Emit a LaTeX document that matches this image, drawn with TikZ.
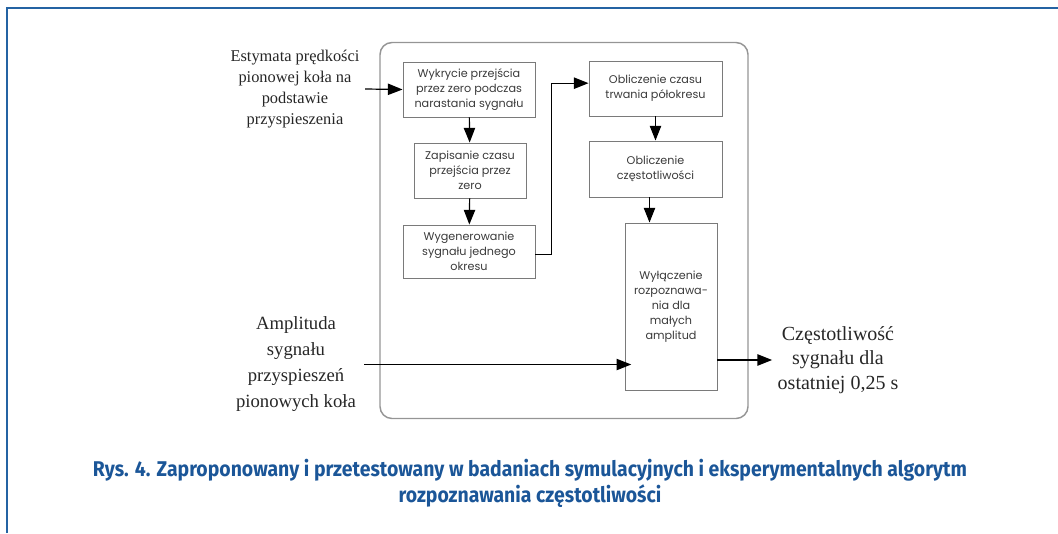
\documentclass[tikz,border=0pt]{standalone}
\usepackage{fontspec}
\setmainfont{Liberation Serif}
\newfontfamily\blokfont{Poppins}
\newfontfamily\capfont[FakeStretch=0.91]{Fira Sans}
\usetikzlibrary{arrows.meta, positioning, calc}
\definecolor{rysBlue}{HTML}{1B5698}
\definecolor{ramkaBlue}{HTML}{2463A3}
\definecolor{blokGray}{HTML}{7A7A7A}
\definecolor{tekstGray}{HTML}{3A3A3A}

\begin{document}
\begin{tikzpicture}[x=0.75pt, y=-0.75pt,
    blok/.style={draw=blokGray, line width=0.7pt, align=center,
                 inner sep=2pt, font=\blokfont\fontsize{8.4}{11.3}\selectfont,
                 text=tekstGray},
    opis/.style={align=center, inner sep=1pt, text=black!85},
    fl/.style={-{Triangle[length=11pt, width=8.5pt]}, line width=0.9pt}]
    \useasboundingbox (0,0) rectangle (1058,533);
    % ramka strony
    \draw[ramkaBlue, line width=1.6pt] (7,533) -- (7,8) -- (1058,8);
    % blok algorytmu
    \node[draw=blokGray!80, line width=1.1pt, rounded corners=9pt,
          minimum width=276pt, minimum height=282pt] (alg) at (564,230.5) {};
    \node[blok, minimum width=99pt, minimum height=41.25pt] (A) at (469,89.5)
        {Wykrycie przejścia\\przez zero podczas\\narastania sygnału};
    \node[blok, minimum width=84pt, minimum height=41.25pt] (B) at (470,170.5)
        {Zapisanie czasu\\przejścia przez\\zero};
    \node[blok, minimum width=99pt, minimum height=39.75pt] (C) at (469,251.5)
        {Wygenerowanie\\sygnału jednego\\okresu};
    \node[blok, minimum width=99.75pt, minimum height=41.25pt] (D) at (655.5,88.5)
        {Obliczenie czasu\\trwania półokresu};
    \node[blok, minimum width=99.75pt, minimum height=42pt] (E) at (655.5,169)
        {Obliczenie\\częstotliwości};
    \node[blok, minimum width=69pt, minimum height=125.25pt] (F) at (671,306.5)
        {Wyłączenie\\rozpoznawa-\\nia dla\\małych\\amplitud};
    % wejscia i wyjscie
    \node[opis, font=\fontsize{12.3}{15.6}\selectfont] (est) at (295,89)
        {Estymata prędkości\\pionowej koła na\\podstawie\\przyspieszenia};
    \node[opis, font=\fontsize{14}{19.5}\selectfont] (amp) at (296,364.5)
        {Amplituda\\sygnału\\przyspieszeń\\pionowych koła};
    \node[opis, font=\fontsize{15}{18.2}\selectfont] (out) at (838,360)
        {Częstotliwość\\sygnału dla\\ostatniej 0,25 s};
    \draw[fl] ([xshift=3pt]est.east) -- (A.west);
    \draw[fl] (A) -- (B);
    \draw[fl] (B) -- (C);
    \draw[fl] ([yshift=-2pt]C.east) -- ++(16,0) |- ([yshift=4pt]D.west);
    \draw[fl] (D) -- (E);
    \draw[fl] ([xshift=-4.5pt]E.south) -- ([xshift=-4.5pt]E.south |- F.north);
    \draw[fl] ([xshift=5pt]amp.east) -- ([xshift=5pt]amp.east -| F.west);
    \draw[fl] (F.east |- out.west) -- ([xshift=-3pt]out.west);
    % podpis
    \node[font=\capfont\bfseries\fontsize{16}{19.5}\selectfont, text=rysBlue,
          align=center] (rys) at (530,483.5)
        {Rys. 4. Zaproponowany i przetestowany w badaniach symulacyjnych i eksperymentalnych algorytm\\
         rozpoznawania częstotliwości};
  \end{tikzpicture}
\end{document}
